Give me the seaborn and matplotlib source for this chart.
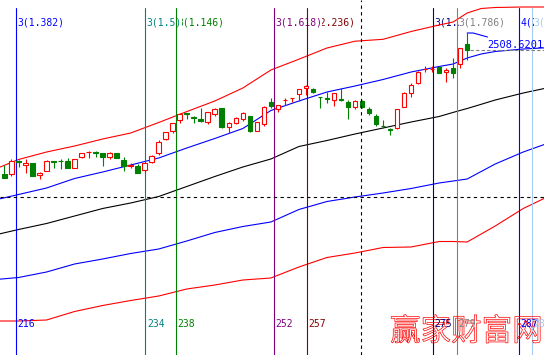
import matplotlib
matplotlib.use("Agg")
import matplotlib.pyplot as plt
import matplotlib.patheffects as pe
import numpy as np
import pandas as pd
import seaborn as sns

sns.set_style("white")
plt.rcParams["font.family"] = ["DejaVu Sans Mono", "Noto Sans CJK SC"]

# ===== K线数据（第214~280根） =====
bars = np.arange(214, 281)
opens = [2384.6, 2384.3, 2398.1, 2393.6, 2395.6, 2383.9, 2387.9, 2397.6, 2397.9, 2397.9,
         2390.9, 2401.3, 2406.6, 2406.3, 2405.3, 2401.3, 2405.3, 2398.6, 2392.9, 2392.6,
         2388.6, 2396.9, 2405.9, 2419.3, 2427.9, 2438.6, 2445.6, 2441.6, 2439.6, 2436.9,
         2444.6, 2450.3, 2431.3, 2435.9, 2439.3, 2442.6, 2427.9, 2434.3, 2456.6, 2449.6,
         2458.3, 2460.6, 2464.3, 2470.3, 2469.6, 2462.1, 2460.6, 2458.6, 2459.6, 2456.3,
         2451.9, 2457.6, 2449.6, 2442.6, 2433.1, 2429.6, 2430.3, 2451.9, 2465.3, 2475.3,
         2489.3, 2489.3, 2491.3, 2486.3, 2490.3, 2494.3, 2515.1]
highs = [2393.6, 2399.6, 2398.6, 2399.6, 2395.6, 2386.9, 2399.1, 2398.1, 2399.6, 2400.3,
         2399.6, 2406.1, 2407.9, 2407.9, 2405.3, 2406.9, 2405.3, 2401.9, 2395.3, 2394.6,
         2396.6, 2403.6, 2418.6, 2427.1, 2435.9, 2445.9, 2445.9, 2442.6, 2450.3, 2446.9,
         2450.3, 2451.1, 2436.9, 2441.3, 2446.3, 2443.1, 2436.6, 2452.6, 2460.6, 2454.1,
         2460.3, 2461.1, 2470.1, 2473.6, 2470.6, 2462.1, 2466.9, 2465.9, 2470.3, 2458.6,
         2458.6, 2458.6, 2451.3, 2444.6, 2438.6, 2430.3, 2449.6, 2466.9, 2475.3, 2487.6,
         2492.9, 2492.6, 2492.6, 2490.9, 2500.9, 2511.1, 2525.6]
lows = [2380.6, 2382.6, 2391.6, 2385.6, 2382.6, 2380.1, 2387.6, 2390.6, 2389.6, 2390.6,
        2390.6, 2401.1, 2400.9, 2401.9, 2392.9, 2399.3, 2400.6, 2387.9, 2390.3, 2385.9,
        2385.3, 2395.9, 2403.6, 2419.1, 2425.3, 2435.9, 2439.3, 2435.9, 2436.9, 2434.3,
        2442.6, 2431.1, 2425.3, 2434.6, 2437.9, 2426.3, 2427.6, 2432.6, 2450.3, 2446.9,
        2453.6, 2456.3, 2457.6, 2463.6, 2465.6, 2450.3, 2455.3, 2452.6, 2457.9, 2439.3,
        2449.9, 2450.6, 2443.6, 2432.6, 2430.9, 2423.6, 2430.1, 2451.3, 2461.9, 2474.6,
        2487.1, 2486.9, 2485.6, 2476.9, 2480.9, 2490.3, 2498.6]
closes = [2380.9, 2397.9, 2397.1, 2395.9, 2382.9, 2385.9, 2397.9, 2396.9, 2397.3, 2390.9,
          2399.3, 2405.9, 2406.9, 2405.6, 2401.9, 2405.3, 2400.9, 2392.6, 2393.3, 2385.9,
          2395.3, 2402.9, 2416.9, 2426.9, 2435.3, 2444.6, 2444.9, 2440.9, 2437.9, 2446.3,
          2449.3, 2431.3, 2435.3, 2440.3, 2445.3, 2427.9, 2436.3, 2451.3, 2452.9, 2453.6,
          2458.9, 2460.9, 2469.6, 2472.9, 2466.3, 2461.6, 2459.9, 2465.3, 2458.9, 2451.3,
          2457.6, 2451.3, 2445.3, 2434.3, 2432.6, 2428.9, 2449.3, 2465.3, 2473.3, 2486.3,
          2489.9, 2489.9, 2485.9, 2488.6, 2485.9, 2510.9, 2508.6201]

# ===== 通道线（外推到右侧） =====
band_bars = [212, 216, 220, 224, 228, 232, 236, 240, 244, 248, 252, 256, 260, 264,
             268, 272, 276, 278, 280, 282, 284, 288, 292]
upper_red = [2387.6, 2399.1, 2406.6, 2412.6, 2419.6, 2425.6, 2436.1, 2447.0, 2457.6, 2470.6,
             2488.6, 2499.4, 2510.6, 2517.4, 2519.3, 2527.1, 2533.6, 2536.6, 2545.6, 2550.1,
             2551.1, 2551.6, 2551.6]
upper_blue = [2357.6, 2364.1, 2370.6, 2380.1, 2386.6, 2393.6, 2400.6, 2410.6, 2420.1, 2430.1,
              2448.1, 2457.6, 2466.6, 2472.6, 2479.1, 2486.6, 2492.1, 2494.6, 2500.6, 2504.6,
              2507.1, 2509.6, 2511.1]
mid_black = [2322.6, 2329.1, 2335.1, 2342.6, 2350.1, 2355.6, 2362.1, 2372.1, 2382.1, 2391.6,
             2399.6, 2412.1, 2418.1, 2424.6, 2430.6, 2436.6, 2442.1, 2446.2, 2450.1, 2454.3,
             2458.6, 2465.6, 2471.6]
lower_blue = [2278.6, 2281.1, 2286.6, 2294.6, 2299.6, 2305.1, 2309.6, 2317.6, 2326.1, 2332.1,
              2336.6, 2349.1, 2357.1, 2361.6, 2365.6, 2370.1, 2375.6, 2377.6, 2379.6, 2387.1,
              2394.6, 2406.6, 2416.6]
lower_red = [2237.6, 2237.6, 2238.6, 2247.1, 2253.1, 2258.1, 2262.6, 2269.6, 2273.6, 2278.6,
             2280.6, 2291.6, 2301.1, 2305.6, 2311.1, 2311.6, 2317.1, 2317.1, 2316.6, 2324.6,
             2332.6, 2350.1, 2363.6]

# ===== 时间周期线 =====
line_bars = [215.64, 234.09, 238.46, 252.44, 257.15, 275.13, 278.55, 287.39, 289.25]
line_nums = ["216", "234", "238", "252", "257", "275", "279", "287", "289"]
line_tags = ["3(1.382)", "3(1.5)", "3(1.146)", "3(1.618)", "3(2.236)",
             "3(1.382)", "3(1.786)", "4(2.0)", "3(2.0)"]
cross_bar = 264.9
cross_price = 2361.3

line_colors = ["#0000FF", "#008080", "#008000", "#800080", "#800000",
               "#000080", "#808080", "#0000FF", "#A6CAF0"]
label_z = [2.4, 2.4, 2.2, 2.4, 2.2, 2.2, 2.4, 2.2, 2.4]

UP = "#FF0000"
DOWN = "#008000"

fig = plt.figure(figsize=(5.44, 3.55), dpi=100)
ax = fig.add_axes([0, 0, 1, 1])
ax.set_xlim(213.36, 290.96)
ax.set_ylim(2203.6, 2558.6)
ax.axis("off")

# 通道线
for vals, c in [(upper_red, UP), (upper_blue, "#0000FF"), (mid_black, "black"),
                (lower_blue, "#0000FF"), (lower_red, UP)]:
    sns.lineplot(x=band_bars, y=vals, color=c, lw=0.8, ax=ax, zorder=3)

# K线
o = np.array(opens)
c = np.array(closes)
up = c >= o
body = np.where(np.abs(c - o) < 0.4, 0.4, c - o)
ax.vlines(bars[up], np.array(lows)[up], np.array(highs)[up], color=UP, lw=0.8, zorder=4)
ax.vlines(bars[~up], np.array(lows)[~up], np.array(highs)[~up], color=DOWN, lw=0.8, zorder=4)
ax.bar(bars[up], body[up], bottom=o[up], width=0.66, facecolor="white",
       edgecolor=UP, linewidth=0.8, zorder=5)
ax.bar(bars[~up], body[~up], bottom=o[~up], width=0.66, facecolor=DOWN,
       edgecolor=DOWN, linewidth=0.8, zorder=5)

# 周期线与标注
for xb, num, tag, col, z in zip(line_bars, line_nums, line_tags, line_colors, label_z):
    ax.axvline(xb, ymin=0, ymax=1 - 8 / 355, color=col, lw=0.8, zorder=3)
    ax.annotate(tag, xy=(xb, 1 - 22.5 / 355), xycoords=("data", "axes fraction"),
                xytext=(1.1, 0), textcoords="offset points", ha="left", va="center",
                color=col, fontsize=7, zorder=z,
                bbox=dict(facecolor="white", edgecolor="none", pad=0))
    ax.annotate(num, xy=(xb, 1 - 324 / 355), xycoords=("data", "axes fraction"),
                xytext=(1.1, 0), textcoords="offset points", ha="left", va="center",
                color=col, fontsize=7, zorder=z + 6)

# 十字光标
ax.axvline(cross_bar, color="black", lw=0.8, ls=(0, (3, 3)), zorder=6)
ax.axhline(cross_price, color="black", lw=0.8, ls=(0, (3, 3)), zorder=6)

# 最新价
ax.axhline(closes[-1], xmin=470 / 544, color="#808080", lw=0.8, ls=(0, (3, 2)), zorder=3)
ax.plot([bars[-1], bars[-1] + 0.85, bars[-1] + 2.9],
        [highs[-1], highs[-1], highs[-1] - 4], color="#0000FF", lw=0.8, zorder=6)
ax.text(bars[-1] + 2.9, highs[-1] - 11.5, f"{closes[-1]:.4f}", color="#0000FF",
        fontsize=7.5, ha="left", va="center", zorder=6, clip_on=True)

# 水印
ax.text(390 / 544, 1 - 332 / 355, "赢家财富网", transform=ax.transAxes,
        family=["Noto Sans CJK SC"], fontsize=22, color="none", ha="left", va="center",
        path_effects=[pe.Stroke(linewidth=0.5, foreground="#FF0000")], zorder=7)

fig.savefig("out.png", dpi=100)
